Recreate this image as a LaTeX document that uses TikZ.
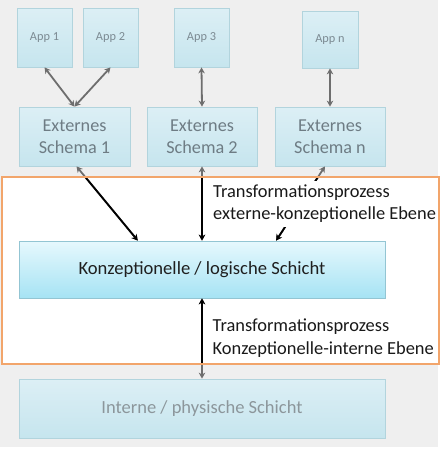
\documentclass[tikz,border=0pt]{standalone}
\usepackage{fontspec}
\setmainfont{Carlito}
\usetikzlibrary{arrows.meta,calc,shadows}
\definecolor{bggrey}{HTML}{EFEFEF}
\definecolor{orangeframe}{HTML}{F2A56B}
\definecolor{fadetop}{HTML}{DCEFF5}
\definecolor{fadebot}{HTML}{C6E5EE}
\definecolor{fadeline}{HTML}{B2D4DD}
\definecolor{konztop}{HTML}{E6F8FD}
\definecolor{konzbot}{HTML}{A6E3F4}
\definecolor{konzline}{HTML}{93C5D3}
\definecolor{apptext}{HTML}{7C8A92}
\definecolor{schematext}{HTML}{6E7C84}
\definecolor{internetext}{HTML}{8C969B}
\definecolor{greyarrow}{HTML}{6E6E6E}
\tikzset{
  fadebox/.style={draw=fadeline, line width=0.8pt, top color=fadetop, bottom color=fadebot,
    inner sep=0pt, align=center,
    drop shadow={opacity=0.18, shadow xshift=1pt, shadow yshift=-1.2pt}},
  appbox/.style={fadebox, minimum width=55pt, minimum height=59pt,
    text=apptext, font=\fontsize{12.3}{14}\selectfont},
  schemabox/.style={fadebox, minimum width=110pt, minimum height=59pt,
    text=schematext, font=\fontsize{18.2}{21.5}\selectfont},
  konzbox/.style={draw=konzline, line width=0.8pt, top color=konztop, bottom color=konzbot,
    inner sep=0pt, minimum width=366pt, minimum height=57pt,
    font=\fontsize{18.6}{22}\selectfont, text={black!88},
    drop shadow={opacity=0.22, shadow xshift=1pt, shadow yshift=-1.2pt}},
  internebox/.style={fadebox, minimum width=366pt, minimum height=59pt,
    text=internetext, font=\fontsize{18.5}{22}\selectfont},
  greyconn/.style={draw=greyarrow, line width=1.8pt,
    {Stealth[length=6pt,width=6.5pt]}-{Stealth[length=6pt,width=6.5pt]}},
  blackconn/.style={draw=black, line width=1.8pt,
    {Stealth[length=6pt,width=6.5pt]}-{Stealth[length=6pt,width=6.5pt]}},
  translabel/.style={anchor=north west, fill=white, inner xsep=1pt, inner ysep=4pt,
    align=left, font=\fontsize{18.4}{22.4}\selectfont, text={black!90}}
}
\begin{document}
\begin{tikzpicture}[x=1pt,y=-1pt]
  \useasboundingbox (0,0) rectangle (442,450);
  \fill[white] (0,0) rectangle (442,450);
  \fill[bggrey] (0,0) rectangle (438,447);
  % focus frame (fill)
  \fill[white] (2,177) rectangle (439,364);
  % boxes
  \node[appbox] (app1) at (44.5,37.5) {App 1};
  \node[appbox] (app2) at (110.5,37.5) {App 2};
  \node[appbox] (app3) at (201.5,37.5) {App 3};
  \node[appbox, minimum width=56pt, minimum height=57pt] (appn) at (330,39.5) {App n};
  \node[schemabox, minimum width=111pt] (s1) at (74.5,136.5) {Externes\\Schema 1};
  \node[schemabox] (s2) at (202,136.5) {Externes\\Schema 2};
  \node[schemabox] (sn) at (330,136.5) {Externes\\Schema n};
  \node[konzbox] (konz) at (202,269.5) {Konzeptionelle / logische Schicht};
  \node[internebox] (int) at (202,408.5) {Interne / physische Schicht};
  % helper points
  \coordinate (k1) at ($(konz.north west)!0.325!(konz.north east)$);
  \coordinate (k3) at ($(konz.north west)!0.702!(konz.north east)$);
  \coordinate (s1b) at ($(s1.south)+(2,0)$);
  \coordinate (snb) at ($(sn.south)+(-5,0)$);
  % grey connectors (outside focus)
  \draw[greyconn] (app1.south) -- (s1.north);
  \draw[greyconn] (app2.south) -- (s1.north);
  \draw[greyconn] (app3.south) -- (s2.north);
  \draw[greyconn] (appn.south) -- (sn.north);
  \draw[greyconn] (s1b) -- (k1);
  \draw[greyconn] (s2.south) -- (konz.north);
  \draw[greyconn] (snb) -- (k3);
  \draw[greyconn] (konz.south) -- (int.north);
  % black parts inside focus frame
  \begin{scope}
    \clip (2,177) rectangle (439,364);
    \draw[blackconn] (s1b) -- (k1);
    \draw[blackconn] (s2.south) -- (konz.north);
    \draw[blackconn] (snb) -- (k3);
    \draw[blackconn] (konz.south) -- (int.north);
  \end{scope}
  % labels
  \node[translabel] (lab1) at (212,180.5) {Transformationsprozess\\externe-konzeptionelle Ebene};
  \node[translabel] (lab2) at (211.5,315) {Transformationsprozess\\Konzeptionelle-interne Ebene};
  % focus frame border
  \draw[orangeframe, line width=1.4pt] (2,177) rectangle (439,364);
\end{tikzpicture}
\end{document}
